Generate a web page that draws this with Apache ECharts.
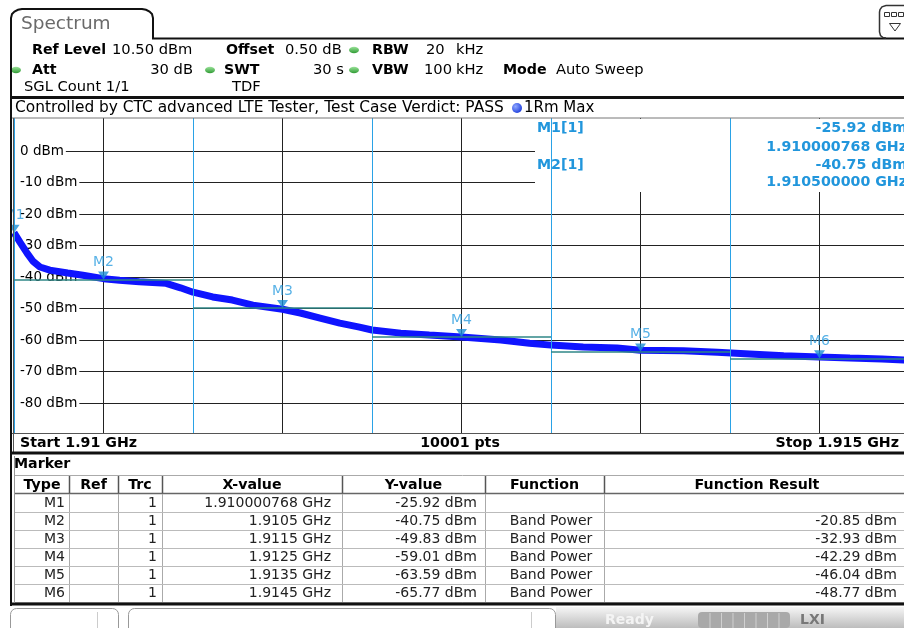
<!DOCTYPE html>
<html>
<head>
<meta charset="utf-8">
<script src="https://cdn.jsdelivr.net/npm/echarts@6/dist/echarts.min.js"></script>
<style>
html, body { margin: 0; padding: 0; background: #fff; overflow: hidden; }
#chart { width: 910px; height: 628px; }
</style>
</head>
<body>
<div id="chart"></div>
<script>
var chart = echarts.init(document.getElementById('chart'));

// trace 1 (1Rm Max): frequency in MHz, level in dBm
var traceFreq = [1910.000, 1910.034, 1910.073, 1910.106, 1910.145, 1910.2, 1910.3, 1910.385,
    1910.5, 1910.59, 1910.7, 1910.85, 1910.93, 1911.0, 1911.11, 1911.22, 1911.335, 1911.5,
    1911.6, 1911.71, 1911.82, 1911.93, 1912.0, 1912.16, 1912.32, 1912.5, 1912.72, 1912.88,
    1913.0, 1913.18, 1913.37, 1913.5, 1913.74, 1913.93, 1914.11, 1914.3, 1914.5, 1914.67,
    1914.85, 1915.0];
var traceLevel = [-25.9, -29, -32.4, -35, -36.8, -37.8, -38.7, -39.4,
    -40.5, -41, -41.5, -42, -43.4, -44.8, -46.3, -47.3, -48.9, -50.2,
    -51.4, -53, -54.6, -55.9, -56.8, -57.8, -58.4, -59, -60, -61,
    -61.6, -62.2, -62.5, -63.2, -63.4, -63.9, -64.4, -65, -65.4, -65.7,
    -66, -66.4];

var levelTicks = [0, -10, -20, -30, -40, -50, -60, -70, -80];
var bandEdges = [1910, 1911, 1912, 1913, 1914, 1915];

// marker table
var markerNames = ['M1', 'M2', 'M3', 'M4', 'M5', 'M6'];
var markerTrace = [1, 1, 1, 1, 1, 1];
var markerFreq = [1910.000768, 1910.5, 1911.5, 1912.5, 1913.5, 1914.5];
var markerLevel = [-25.92, -40.75, -49.83, -59.01, -63.59, -65.77];
var markerFunc = ['', 'Band Power', 'Band Power', 'Band Power', 'Band Power', 'Band Power'];
var bandPower = [null, -20.85, -32.93, -42.29, -46.04, -48.77];
var bandSpan = 1; // MHz

var FONT = '"DejaVu Sans", Verdana, sans-serif';
var MBLUE = '#2196dc';
var g = [];

function vgrad(c0, c1) {
    return { type: 'linear', x: 0, y: 0, x2: 0, y2: 1,
        colorStops: [{ offset: 0, color: c0 }, { offset: 1, color: c1 }] };
}
function text(x, y, s, size, bold, color, align, z, bg) {
    var st = {
        text: s,
        font: (bold ? 'bold ' : '') + size + 'px ' + FONT,
        fill: color || '#000',
        textAlign: align || 'left',
        textVerticalAlign: 'middle'
    };
    if (bg) { st.backgroundColor = bg; st.padding = [2, 1]; }
    g.push({ type: 'text', x: x, y: y, z: z || 10, silent: true, style: st });
}
function line(x1, y1, x2, y2, color, w, z) {
    g.push({ type: 'line', z: z || 10, silent: true,
        shape: { x1: x1, y1: y1, x2: x2, y2: y2 },
        style: { stroke: color, lineWidth: w || 1 } });
}
function poly(pts, color, w, z) {
    g.push({ type: 'polyline', z: z || 10, silent: true, shape: { points: pts },
        style: { stroke: color, lineWidth: w || 1, fill: null } });
}
function rect(x, y, w, h, fill, z, stroke, r) {
    g.push({ type: 'rect', z: z || 9, silent: true,
        shape: { x: x, y: y, width: w, height: h, r: r || 0 },
        style: { fill: fill, stroke: stroke || null, lineWidth: 1 } });
}
function led(cx, cy) {
    g.push({ type: 'ellipse', z: 10, silent: true, shape: { cx: cx, cy: cy, rx: 5, ry: 3.3 },
        style: { fill: vgrad('#9be39b', '#2f9a33') } });
}

// ---- header ----
poly([[11, 100], [11, 18], [12, 14], [14.5, 11.5], [18, 9.8], [22, 9], [142, 9], [146, 9.8],
    [149.5, 11.5], [152, 14], [153, 18], [153, 38.5], [910, 38.5]], '#111', 2);
poly([[910, 5.5], [886, 5.5], [882, 6.8], [880, 9.5], [879.5, 12], [879.5, 32], [880.5, 35.5],
    [883, 37.5], [886, 38]], '#333', 1.5);
rect(884.5, 12.5, 5, 4, '#fff', 10, '#333');
rect(891.5, 12.5, 5, 4, '#fff', 10, '#333');
rect(898.5, 12.5, 5, 4, '#fff', 10, '#333');
g.push({ type: 'polygon', z: 10, silent: true, shape: { points: [[889.5, 23.5], [900.5, 23.5], [895, 31]] },
    style: { fill: '#fff', stroke: '#333', lineWidth: 1 } });
text(21, 24, 'Spectrum', 18.5, false, '#6a6a6a', 'left');

text(32, 50, 'Ref Level', 14.2, true);
text(112, 50, '10.50 dBm', 14.7);
text(226, 50, 'Offset', 14.2, true);
text(285, 50, '0.50 dB', 14.7);
led(354, 50);
text(372, 50, 'RBW', 14.2, true);
text(426, 50, '20', 14.7);
text(456, 50, 'kHz', 14.7);

led(16, 70);
text(32, 70, 'Att', 14.2, true);
text(193, 70, '30 dB', 14.7, false, '#000', 'right');
led(210, 70);
text(224, 70, 'SWT', 14.2, true);
text(344, 70, '30 s', 14.7, false, '#000', 'right');
led(354, 70);
text(372, 70, 'VBW', 14.2, true);
text(424, 70, '100', 14.7);
text(456, 70, 'kHz', 14.7);
text(503, 70, 'Mode', 14.2, true);
text(556, 70, 'Auto Sweep', 14.7);

text(24, 87, 'SGL Count 1/1', 14.7);
text(232, 87, 'TDF', 14.7);

// ---- diagram frame ----
line(10, 97.5, 910, 97.5, '#111', 3);
text(15, 108, 'Controlled by CTC advanced LTE Tester, Test Case Verdict: PASS', 15.4);
g.push({ type: 'circle', z: 10, silent: true, shape: { cx: 517, cy: 108, r: 5 },
    style: { fill: { type: 'radial', x: 0.35, y: 0.35, r: 0.8,
        colorStops: [{ offset: 0, color: '#8fa8ff' }, { offset: 1, color: '#1030d8' }] } } });
text(524, 108, '1Rm Max', 15);
line(12, 118, 910, 118, '#777', 1);

// marker info area (hides grid top right)
rect(535, 119, 375, 73, '#fff', 1);
text(536, 128, markerNames[0] + '[' + markerTrace[0] + ']', 14.2, true, MBLUE, 'left', 5, '#fff');
text(536, 165, markerNames[1] + '[' + markerTrace[1] + ']', 14.2, true, MBLUE, 'left', 5, '#fff');
text(907, 128, markerLevel[0].toFixed(2) + ' dBm', 14.2, true, MBLUE, 'right', 5);
text(907, 147, (markerFreq[0] / 1000).toFixed(9) + ' GHz', 14.2, true, MBLUE, 'right', 5);
text(907, 165, markerLevel[1].toFixed(2) + ' dBm', 14.2, true, MBLUE, 'right', 5);
text(907, 182, (markerFreq[1] / 1000).toFixed(9) + ' GHz', 14.2, true, MBLUE, 'right', 5);

rect(0, 100, 10, 520, '#fff', 8);
line(11, 19, 11, 606, '#111', 2);
line(13.5, 118, 13.5, 452, '#555', 1);

// bottom bar
rect(12, 434, 898, 17, '#fff', 8);
line(12, 433.5, 910, 433.5, '#555', 1);
text(20, 443, 'Start ' + (bandEdges[0] / 1000) + ' GHz', 14.2, true);
text(460, 443, '10001 pts', 14.2, true, '#000', 'center');
text(899, 443, 'Stop ' + (bandEdges[bandEdges.length - 1] / 1000) + ' GHz', 14.2, true, '#000', 'right');
line(10, 453, 910, 453, '#111', 3);

// ---- marker table ----
line(14.5, 456, 14.5, 602, '#999', 1);
text(14, 464, 'Marker', 14.2, true);
var cols = [15, 69, 118, 162, 342, 485, 604, 910];
var heads = ['Type', 'Ref', 'Trc', 'X-value', 'Y-value', 'Function', 'Function Result'];
line(15, 475.5, 910, 475.5, '#aaa', 1);
line(15, 493.5, 910, 493.5, '#666', 1.5);
for (var c = 0; c < heads.length; c++) {
    text((cols[c] + cols[c + 1]) / 2, 485, heads[c], 14.2, true, '#000', 'center');
    if (c > 0) {
        line(cols[c] + 0.5, 476, cols[c] + 0.5, 493, '#555', 1.5);
        line(cols[c] + 0.5, 494, cols[c] + 0.5, 602, '#aaa', 1);
    }
}
function gstr(f) { return parseFloat((f / 1000).toFixed(9)).toString() + ' GHz'; }
for (var i = 0; i < markerNames.length; i++) {
    var y = 503 + i * 18;
    text(65, y, markerNames[i], 14, false, '#222', 'right');
    text(157, y, String(markerTrace[i]), 14, false, '#222', 'right');
    text(331, y, gstr(markerFreq[i]), 14, false, '#222', 'right');
    text(477, y, markerLevel[i].toFixed(2) + ' dBm', 14, false, '#222', 'right');
    if (markerFunc[i]) text(551, y, markerFunc[i], 14, false, '#222', 'center');
    if (bandPower[i] !== null) text(897, y, bandPower[i].toFixed(2) + ' dBm', 14, false, '#222', 'right');
    line(15, y + 9.5, 910, y + 9.5, '#bbb', 1);
}
line(10, 604, 910, 604, '#111', 3);

// ---- status bar ----
rect(10.5, 608.5, 108, 30, '#fff', 9, '#999', [6, 6, 0, 0]);
line(97.5, 612, 97.5, 628, '#ccc', 1);
rect(128.5, 608.5, 427, 30, '#fff', 9, '#999', [6, 6, 0, 0]);
line(531.5, 612, 531.5, 628, '#ccc', 1);
rect(556, 607, 354, 21, vgrad('#f6f6f6', '#bdbdbd'), 9);
text(605, 620, 'Ready', 14, true, '#f4f4f4', 'left');
rect(698, 612, 92, 16, '#a9a9a9', 10, null, 4);
for (var k = 1; k < 8; k++) line(698.5 + k * 11.5, 613, 698.5 + k * 11.5, 628, '#d0d0d0', 1);
text(800, 620, 'LXI', 14, true, '#777', 'left');

// ---- chart ----
var traceData = traceFreq.map(function (f, i) { return [f, traceLevel[i]]; });
var markerData = markerFreq.map(function (f, i) { return [f, markerLevel[i]]; });

var bandLines = bandEdges.map(function (f) {
    return { xAxis: f, lineStyle: { color: '#2aa2e6', width: 1, type: 'solid' } };
});
for (var j = 0; j < markerFreq.length; j++) {
    if (!markerFunc[j]) continue;
    bandLines.push([
        { coord: [markerFreq[j] - bandSpan / 2, markerLevel[j]],
          lineStyle: { color: '#2f8787', width: 1.5, type: 'solid' } },
        { coord: [markerFreq[j] + bandSpan / 2, markerLevel[j]] }
    ]);
}

var option = {
    animation: false,
    grid: { left: 14, top: 118, width: 895, height: 315 },
    xAxis: {
        type: 'value', min: 1910, max: 1915, interval: 0.5,
        axisLine: { show: false }, axisTick: { show: false }, axisLabel: { show: false },
        splitLine: { lineStyle: { color: '#222', width: 1 } }
    },
    yAxis: [{
        type: 'value', min: -89.5, max: 10.5, position: 'left',
        axisLine: { show: false },
        axisTick: { show: false, customValues: levelTicks },
        axisLabel: { show: false },
        splitLine: { lineStyle: { color: '#222', width: 1 } }
    }, {
        type: 'value', min: -89.5, max: 10.5, z: 1.2, position: 'left', offset: 0,
        axisLine: { show: false }, axisTick: { show: false }, splitLine: { show: false },
        axisLabel: {
            inside: true, margin: 0, customValues: levelTicks,
            formatter: function (v) { return v + ' dBm'; },
            color: '#000', fontSize: 13.5, fontFamily: FONT,
            backgroundColor: '#fff', padding: [1, 2, 1, 6]
        }
    }],
    graphic: { elements: g },
    series: [{
        type: 'line', name: 'bands', data: [], z: 2, silent: true,
        markLine: { silent: true, symbol: ['none', 'none'], animation: false,
            label: { show: false }, data: bandLines }
    }, {
        type: 'line', name: '1Rm Max', z: 3, data: traceData, symbol: 'none',
        lineStyle: { color: '#0f14ff', width: 7 }, silent: true
    }, {
        type: 'scatter', name: 'markers', z: 4, data: markerData, silent: true,
        symbol: 'path://M0,0L10,0L5,8Z', symbolSize: [11, 8], symbolOffset: [0, -4],
        itemStyle: { color: '#1a8fd6' },
        label: { show: true, position: 'top', distance: 2, color: '#2d9ee0',
            fontSize: 14, fontFamily: FONT,
            formatter: function (p) { return markerNames[p.dataIndex]; } }
    }]
};

chart.setOption(option);
</script>
</body>
</html>
